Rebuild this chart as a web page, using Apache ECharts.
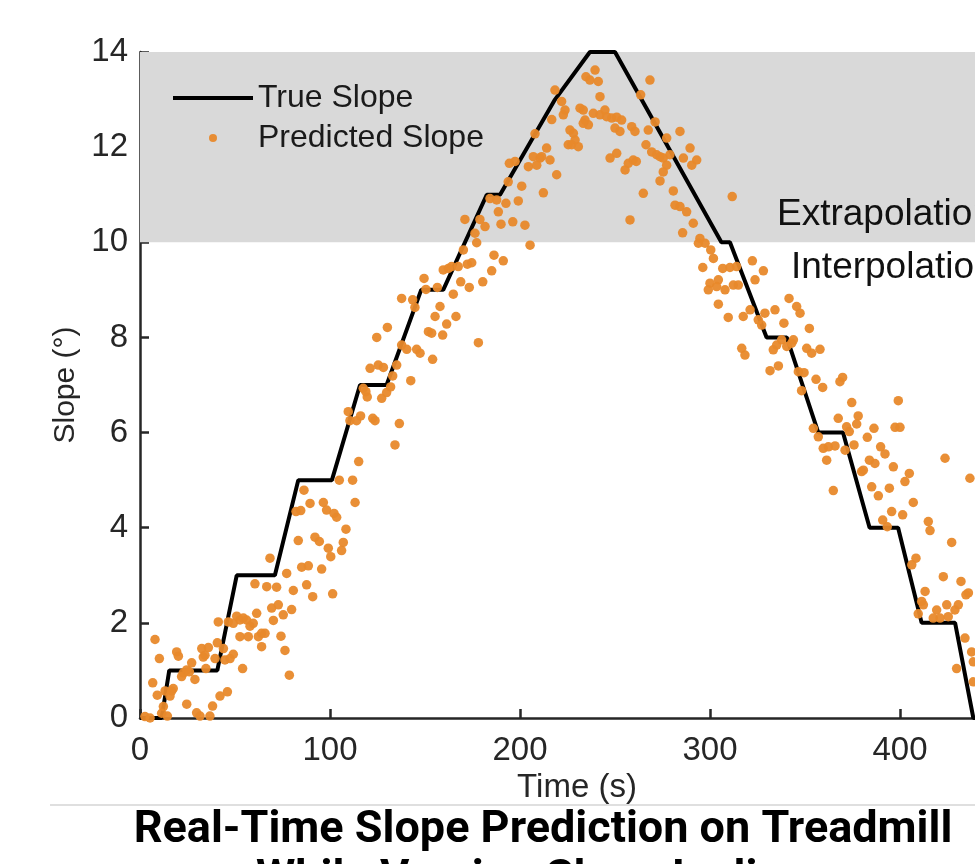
<!DOCTYPE html>
<html><head><meta charset="utf-8">
<style>html,body{margin:0;padding:0;background:#fff;overflow:hidden}#c{width:975px;height:864px}</style>
<script src="https://cdn.jsdelivr.net/npm/echarts@6/dist/echarts.min.js"></script>
</head><body><div id="c"></div>
<script>
// True slope profile (time s, slope deg)
const trueTime  = [0, 11.4, 15.4, 40.7, 50.9, 71, 83.3, 101, 115.8, 129.8, 148, 159.6, 182.5, 189.5, 218.4, 236.8, 250, 306, 310.5, 329.8, 340.4, 357, 370, 384, 399, 411.4, 429, 438.6, 460];
const trueSlope = [0, 0, 1, 1, 3, 3, 5, 5, 7, 7, 9, 9, 11, 11, 13, 14, 14, 10, 10, 8, 8, 6, 6, 4, 4, 2, 2, 0, 0];

// Predicted slope points [time s, slope deg]
const predictedRise = [[2.6,0.03],[5.3,0.0],[7.9,1.65],[6.7,0.74],[10.2,1.25],[9.1,0.48],[12.3,0.24],[14.4,0.04],[11.4,0.1],[13.2,0.57],[16.7,0.57],[17.5,0.62],[15.8,0.46],[19.3,1.39],[20.2,1.30],[21.9,0.87],[22.8,0.95],[24.6,1.01],[27.2,1.16],[26.0,0.97],[28.9,0.81],[24.6,0.29],[29.8,0.11],[31.6,0.04],[32.5,1.46],[34.2,1.32],[36.0,1.48],[33.3,1.28],[34.7,1.04],[36.8,0.04],[38.2,0.25],[39.5,1.25],[40.7,1.58],[41.2,2.02],[42.1,0.46],[46.0,0.55],[43.9,1.46],[44.7,1.22],[47.4,1.25],[49.1,1.34],[46.5,2.02],[49.1,1.99],[50.9,2.14],[52.6,2.06],[54.4,2.10],[56.1,2.06],[57.9,1.93],[59.6,1.99],[52.6,1.71],[57.0,1.71],[54.0,1.04],[60.5,2.82],[61.4,2.20],[62.3,1.71],[64.0,1.78],[65.8,1.78],[64.0,1.50],[66.7,2.76],[71.9,2.75],[68.4,3.36],[69.3,2.31],[72.8,2.38],[75.4,2.17],[70.2,2.05],[74.2,1.72],[76.3,1.42],[78.6,0.90],[77.2,3.04],[79.8,2.28],[80.7,2.68],[82.1,4.34],[84.6,4.36],[83.3,3.73],[85.1,3.17],[86.3,4.79],[89.5,4.51],[87.7,2.80],[90.9,2.55],[88.6,3.20],[92.1,3.80],[94.4,3.71],[95.6,3.13],[96.5,4.53],[98.2,4.37],[102.1,4.30],[103.5,4.22],[99.1,3.57],[100.4,3.39],[101.4,2.61],[104.9,5.00],[108.4,3.97],[107.0,3.69],[106.1,3.52],[111.9,5.00],[113.2,4.53],
[115.1,5.39],[109.6,6.44],[110.5,6.25],[114.0,6.25],[116.1,6.35],[117.5,6.93],[119.6,6.75],[118.9,6.86],[122.5,6.30],[123.7,6.25],[127.2,6.72],[129.8,6.84],[131.9,6.96],[133.0,7.19],[135.1,7.42],[136.5,6.19],[134.2,5.74],[142.5,7.09],[121.1,7.35],[125.4,7.42],[128.1,7.37],[124.6,8.00],[130.2,8.21],[137.7,7.84],[140.4,7.75],[145.6,7.75],[147.4,7.67],[154.0,7.54],[137.7,8.82],[143.5,8.79],[144.7,8.63],[149.5,9.24],[150.5,9.01],[151.8,8.12],[153.5,8.09],[159.3,8.05],[155.3,8.44],[157.9,8.65],[161.4,8.28],[166.3,8.44],[156.5,9.05],[164.9,8.91],[159.6,9.42],[162.3,9.45],[164.0,9.49],[167.5,9.49],[168.8,9.17],[173.3,9.05],[180.4,9.17],[172.3,9.54],[174.6,9.57],[178.1,7.89],[185.1,9.40],[186.3,9.73],[191.2,9.61],[170.2,9.84]];
const predictedPeak = [[177.2,9.99],[176.3,10.19],[171.0,10.48],[178.9,10.48],[181.6,10.33],[184.2,10.92],[187.7,10.89],[192.6,10.82],[188.6,10.64],[190.0,10.38],[196.2,10.43],[202.6,10.36],[199.1,10.87],[205.3,9.94],[193.8,11.27],[200.9,11.18],[194.4,11.66],[197.4,11.70],[204.4,11.59],[207.9,12.28],[210.5,11.77],[214.0,11.98],[212.3,11.04],
[207.0,11.80],[208.8,11.62],[211.4,11.80],[215.8,11.73],[219.3,11.42],[216.7,12.58],[218.4,13.20],[221.9,12.96],[223.7,12.78],[222.8,12.68],[226.3,12.36],[228.1,12.29],[229.0,12.15],[225.4,12.05],[227.2,12.05],[230.7,12.01],[231.6,12.82],[233.3,12.78],[234.2,12.57],[236.0,12.47],[233.3,12.50],[234.7,13.48],[236.8,13.41],[239.5,13.62],[241.2,13.38],[242.1,13.06],[238.6,12.71],[242.1,12.68],[244.7,12.78],[245.6,12.64],[248.3,12.61],[250.9,12.63],[253.5,12.57],[250.0,12.40],[252.6,12.33],[258.8,12.43],[260.5,12.33],[247.4,11.77],[250.9,11.87],[255.3,11.52],[257.0,11.66],[259.6,11.73],[261.2,11.70],[257.9,10.47],[264.9,11.03],[263.5,13.10],[268.4,13.41],[266.3,12.05],[269.3,11.90],[271.9,11.84],[273.7,11.80],[275.4,11.77],[277.2,11.62],[278.9,11.84],[267.5,12.36],[271.1,12.53],[277.2,12.19],[275.4,11.48],[273.7,11.29],[280.7,11.08],[281.6,10.78],[284.2,10.75],[287.7,10.64],[284.2,12.33],[286.0,11.77],[289.5,11.98],[290.4,11.62],[293.0,11.73],[291.2,10.40],[285.6,10.20],[294.7,10.08],[293.9,9.98],[297.4,9.98],[300.4,9.84],[301.8,9.66],[311.7,10.96]];
const predictedFall = [[296.2,9.47],[306.7,9.45],[310.5,9.47],[314.0,9.49],[300.0,9.14],[304.4,9.21],[299.1,9.00],[303.5,9.07],[307.9,9.00],[312.3,9.10],[314.9,9.10],[323.7,9.21],[322.3,9.61],[328.1,9.40],[304.4,8.70],[309.6,8.42],[317.5,8.44],[321.1,8.58],[325.4,8.37],[328.9,8.51],[334.2,8.58],[338.9,8.30],[341.6,8.82],[345.6,8.65],[347.4,8.51],[352.3,8.19],
[327.2,8.26],[337.7,7.95],[335.1,7.84],[343.0,7.88],[333.3,7.74],[340.4,7.81],[343.9,7.95],[316.7,7.77],[318.4,7.63],[350.9,7.77],[353.5,7.67],[357.9,7.75],[331.6,7.30],[336.0,7.40],[346.5,7.28],[349.5,7.26],[355.8,7.12],[359.3,6.95],[348.2,6.88],[368.4,7.07],[369.8,7.16],[374.6,6.63],[399.1,6.67],[367.5,6.30],[378.0,6.35],[377.2,6.18],[386.3,6.09],[397.4,6.11],[400.0,6.11],[354.4,6.09],[357.0,5.91],[371.9,6.12],[373.3,6.02],[375.8,5.74],[382.8,5.90],[389.8,5.70],[392.1,5.55],[396.5,5.28],[402.6,4.97],[404.9,5.14],[359.6,5.67],[362.3,5.70],[365.8,5.72],[371.1,5.63],[361.4,5.42],[383.9,5.42],[386.8,5.35],[380.7,5.21],[379.8,5.18],[385.1,4.86],[394.4,4.83],[388.6,4.67],[364.9,4.78],[423.7,5.46],[436.8,5.04],[407.0,4.53],[395.6,4.34],[401.4,4.27],[390.9,4.16],[393.3,4.02],[414.9,4.13],[415.8,3.94],[427.2,3.69],
[408.4,3.36],[406.2,3.22],[422.8,2.97],[432.1,2.87],[434.7,2.59],[436.0,2.63],[413.2,2.66],[411.4,2.45],[412.3,2.38],[409.6,2.19],[419.3,2.27],[424.6,2.38],[430.7,2.38],[428.9,2.27],[417.5,2.10],[421.1,2.10],[425.4,2.13],[434.2,1.68],[437.7,1.39],[438.6,1.18],[429.8,1.04],[438.6,0.76]];

const extrapolationBand = [10, 14];
const xRange = [0, 460, 100];
const yRange = [0, 14, 2];

const AX = '#262626';
const FONT = '"Liberation Sans", Arial, sans-serif';
const chart = echarts.init(document.getElementById('c'), null, {renderer: 'canvas'});
const trueData = trueTime.map((t, i) => [t, trueSlope[i]]);
const predData = predictedRise.concat(predictedPeak, predictedFall);

chart.setOption({
  backgroundColor: '#fff',
  animation: false,
  grid: {left: 140, top: 52, bottom: 146, right: -39, outerBoundsMode: 'none', containLabel: false},
  legend: {
    orient: 'vertical', left: 173, top: 82, itemWidth: 80, itemHeight: 8, itemGap: 8, padding: 0,
    textStyle: {fontSize: 32, color: '#1a1a1a', fontFamily: FONT, lineHeight: 31},
    data: [
      {name: 'True Slope', icon: 'path://M0,0H80V4H0Z'},
      {name: 'Predicted Slope', icon: 'circle'}
    ]
  },
  xAxis: {
    type: 'value', min: xRange[0], max: xRange[1], interval: xRange[2],
    name: 'Time (s)', nameLocation: 'middle', nameGap: 50,
    nameTextStyle: {fontSize: 33, color: AX, fontFamily: FONT},
    axisLine: {show: true, lineStyle: {color: AX, width: 2.5}},
    axisTick: {show: true, inside: true, length: 9, lineStyle: {color: AX, width: 2.5}},
    axisLabel: {fontSize: 33, color: AX, fontFamily: FONT, margin: 16},
    splitLine: {show: false}
  },
  yAxis: {
    type: 'value', min: yRange[0], max: yRange[1], interval: yRange[2],
    name: 'Slope (°)', nameLocation: 'middle', nameGap: 54,
    nameTextStyle: {fontSize: 30, color: AX, fontFamily: FONT},
    axisLine: {show: true, lineStyle: {color: AX, width: 2.5}},
    axisTick: {show: true, inside: true, length: 9, lineStyle: {color: AX, width: 2.5}},
    axisLabel: {fontSize: 33, color: AX, fontFamily: FONT, margin: 12},
    splitLine: {show: false}
  },
  series: [
    {
      name: 'True Slope', type: 'line', data: trueData, symbol: 'none', clip: false, z: 2,
      lineStyle: {color: '#000', width: 4}, itemStyle: {color: '#000'},
      markArea: {silent: true, z: 1, itemStyle: {color: '#d9d9d9'},
        data: [[{yAxis: extrapolationBand[0]}, {yAxis: extrapolationBand[1]}]]}
    },
    {
      name: 'Predicted Slope', type: 'scatter', data: predData, symbolSize: 9.5, z: 3,
      itemStyle: {color: '#E8892B', opacity: 0.95}
    }
  ],
  graphic: [
    {type: 'line', shape: {x1: 50, y1: 805, x2: 975, y2: 805}, style: {stroke: '#d4d4d4', lineWidth: 1.5}, z: 10},
    {type: 'text', x: 777, y: 215, style: {text: 'Extrapolation', font: '37px ' + FONT, fill: '#111', verticalAlign: 'middle', align: 'left'}, z: 10},
    {type: 'text', x: 791, y: 268, style: {text: 'Interpolation', font: '37px ' + FONT, fill: '#111', verticalAlign: 'middle', align: 'left'}, z: 10},
    {type: 'text', x: 543, y: 831, style: {text: 'Real-Time Slope Prediction on Treadmill', font: 'bold 45px Roboto', fill: '#000', verticalAlign: 'middle', align: 'center'}, z: 10},
    {type: 'text', x: 543, y: 880, style: {text: 'While Varying Slope Inclines', font: 'bold 45px Roboto', fill: '#000', verticalAlign: 'middle', align: 'center'}, z: 10}
  ]
});
</script></body></html>
